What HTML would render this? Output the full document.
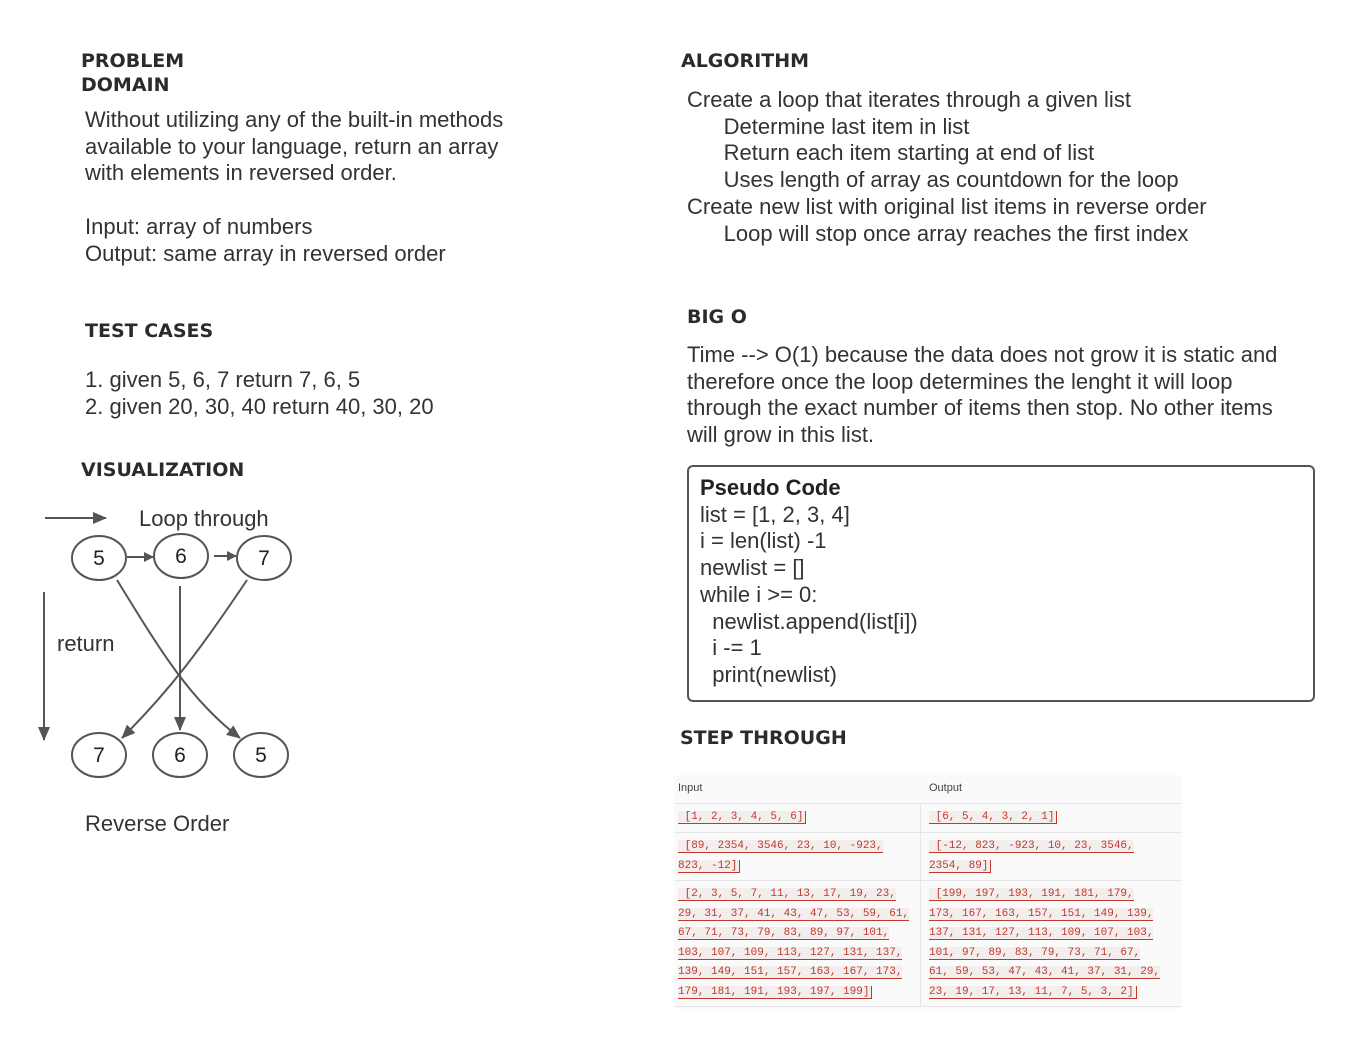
<!DOCTYPE html>
<html><head><meta charset="utf-8"><style>
body{margin:0;width:1353px;height:1052px;background:#fff;position:relative;overflow:hidden;font-family:"Liberation Sans",sans-serif;color:#333}
.h{position:absolute;font-family:"DejaVu Sans",sans-serif;font-weight:bold;font-size:19px;line-height:24px;color:#2b2b2b;letter-spacing:0px}
.t{position:absolute;font-size:22px;line-height:26.7px;color:#333;white-space:pre}
.tbl{position:absolute;left:674px;top:775px;width:508px;height:234px;background:#fafafa;font-size:11px}
.tbl .c{position:absolute;font-family:"Liberation Mono",monospace;font-size:11px;line-height:19.5px;color:#c0392b}
.tbl .c span{background:#f3eeee;border-bottom:1px solid #c0392b}
.tbl .c span.e{border-right:1px solid #c0392b;padding-right:2px}
.hl{position:absolute;background:#e6e6e6;height:1px}
</style></head><body>
<div class="h" style="left:81px;top:49px">PROBLEM<br>DOMAIN</div>
<div class="t" style="left:85px;top:107px">Without utilizing any of the built-in methods
available to your language, return an array
with elements in reversed order.

Input: array of numbers
Output: same array in reversed order</div>
<div class="h" style="left:85px;top:319px">TEST CASES</div>
<div class="t" style="left:85px;top:367px">1. given 5, 6, 7 return 7, 6, 5
2. given 20, 30, 40 return 40, 30, 20</div>
<div class="h" style="left:81px;top:458px">VISUALIZATION</div>
<svg style="position:absolute;left:0;top:0" width="320" height="850">
<defs><marker id="a" markerWidth="10" markerHeight="10" refX="9" refY="5" orient="auto" markerUnits="userSpaceOnUse"><path d="M0,0 L10,5 L0,10z" fill="#555"/></marker>
<marker id="b" markerWidth="14" markerHeight="14" refX="13" refY="7" orient="auto" markerUnits="userSpaceOnUse"><path d="M0,1 L14,7 L0,13z" fill="#555"/></marker></defs>
<g stroke="#555" stroke-width="2" fill="none">
<line x1="45" y1="518" x2="106" y2="518" marker-end="url(#b)"/>
<line x1="44" y1="592" x2="44" y2="740" marker-end="url(#b)"/>
<ellipse cx="99" cy="558" rx="27" ry="22"/><ellipse cx="181" cy="556" rx="27" ry="22"/><ellipse cx="264" cy="558" rx="27" ry="22"/>
<ellipse cx="99" cy="755" rx="27" ry="22"/><ellipse cx="180" cy="755" rx="27" ry="22"/><ellipse cx="261" cy="755" rx="27" ry="22"/>
<line x1="127" y1="557" x2="153" y2="557" marker-end="url(#a)"/>
<line x1="214" y1="556" x2="236" y2="556" marker-end="url(#a)"/>
<line x1="180" y1="586" x2="180" y2="730" marker-end="url(#b)"/>
<path d="M117,580 C160,650 190,700 240,738" marker-end="url(#b)"/>
<path d="M247,580 C200,650 170,690 122,738" marker-end="url(#b)"/>
</g>
<g font-family="Liberation Sans" font-size="21" fill="#222" text-anchor="middle">
<text x="99" y="565">5</text><text x="181" y="563">6</text><text x="264" y="565">7</text>
<text x="99" y="762">7</text><text x="180" y="762">6</text><text x="261" y="762">5</text>
</g>
<text x="139" y="526" font-family="Liberation Sans" font-size="22" fill="#333">Loop through</text>
<text x="57" y="651" font-family="Liberation Sans" font-size="22" fill="#333">return</text>
<text x="85" y="831" font-family="Liberation Sans" font-size="22" fill="#333">Reverse Order</text>
</svg>
<div class="h" style="left:681px;top:49px">ALGORITHM</div>
<div class="t" style="left:687px;top:87px">Create a loop that iterates through a given list
      Determine last item in list
      Return each item starting at end of list
      Uses length of array as countdown for the loop
Create new list with original list items in reverse order
      Loop will stop once array reaches the first index</div>
<div class="h" style="left:687px;top:305px">BIG O</div>
<div class="t" style="left:687px;top:342px">Time --&gt; O(1) because the data does not grow it is static and
therefore once the loop determines the lenght it will loop
through the exact number of items then stop. No other items
will grow in this list.</div>
<div style="position:absolute;left:687px;top:465px;width:624px;height:233px;border:2.5px solid #555;border-radius:6px"></div>
<div class="t" style="left:700px;top:475px"><b style="color:#222">Pseudo Code</b>
list = [1, 2, 3, 4]
i = len(list) -1
newlist = []
while i &gt;= 0:
  newlist.append(list[i])
  i -= 1
  print(newlist)</div>
<div class="h" style="left:680px;top:726px">STEP THROUGH</div>
<div class="tbl">
<div style="position:absolute;left:4px;top:7px;color:#444">Input</div>
<div style="position:absolute;left:255px;top:7px;color:#444">Output</div>
<div class="hl" style="left:0;width:508px;top:28px"></div>
<div class="hl" style="left:0;width:508px;top:57px"></div>
<div class="hl" style="left:0;width:508px;top:105px"></div>
<div class="hl" style="left:0;width:508px;top:231px"></div>
<div style="position:absolute;left:246px;top:28px;width:1px;height:204px;background:#e6e6e6"></div>
<div class="c" style="left:4px;top:33px;width:240px"><span class="e">&nbsp;[1, 2, 3, 4, 5, 6]</span></div>
<div class="c" style="left:255px;top:33px;width:240px"><span class="e">&nbsp;[6, 5, 4, 3, 2, 1]</span></div>
<div class="c" style="left:4px;top:62px;width:240px"><span>&nbsp;[89, 2354, 3546, 23, 10, -923,</span><br><span class="e">823, -12]</span></div>
<div class="c" style="left:255px;top:62px;width:240px"><span>&nbsp;[-12, 823, -923, 10, 23, 3546,</span><br><span class="e">2354, 89]</span></div>
<div class="c" style="left:4px;top:110px;width:245px;white-space:nowrap"><span>&nbsp;[2, 3, 5, 7, 11, 13, 17, 19, 23,</span><br><span>29, 31, 37, 41, 43, 47, 53, 59, 61,</span><br><span>67, 71, 73, 79, 83, 89, 97, 101,</span><br><span>103, 107, 109, 113, 127, 131, 137,</span><br><span>139, 149, 151, 157, 163, 167, 173,</span><br><span class="e">179, 181, 191, 193, 197, 199]</span></div>
<div class="c" style="left:255px;top:110px;width:250px;white-space:nowrap"><span>&nbsp;[199, 197, 193, 191, 181, 179,</span><br><span>173, 167, 163, 157, 151, 149, 139,</span><br><span>137, 131, 127, 113, 109, 107, 103,</span><br><span>101, 97, 89, 83, 79, 73, 71, 67,</span><br><span>61, 59, 53, 47, 43, 41, 37, 31, 29,</span><br><span class="e">23, 19, 17, 13, 11, 7, 5, 3, 2]</span></div>
</div>
</body></html>
